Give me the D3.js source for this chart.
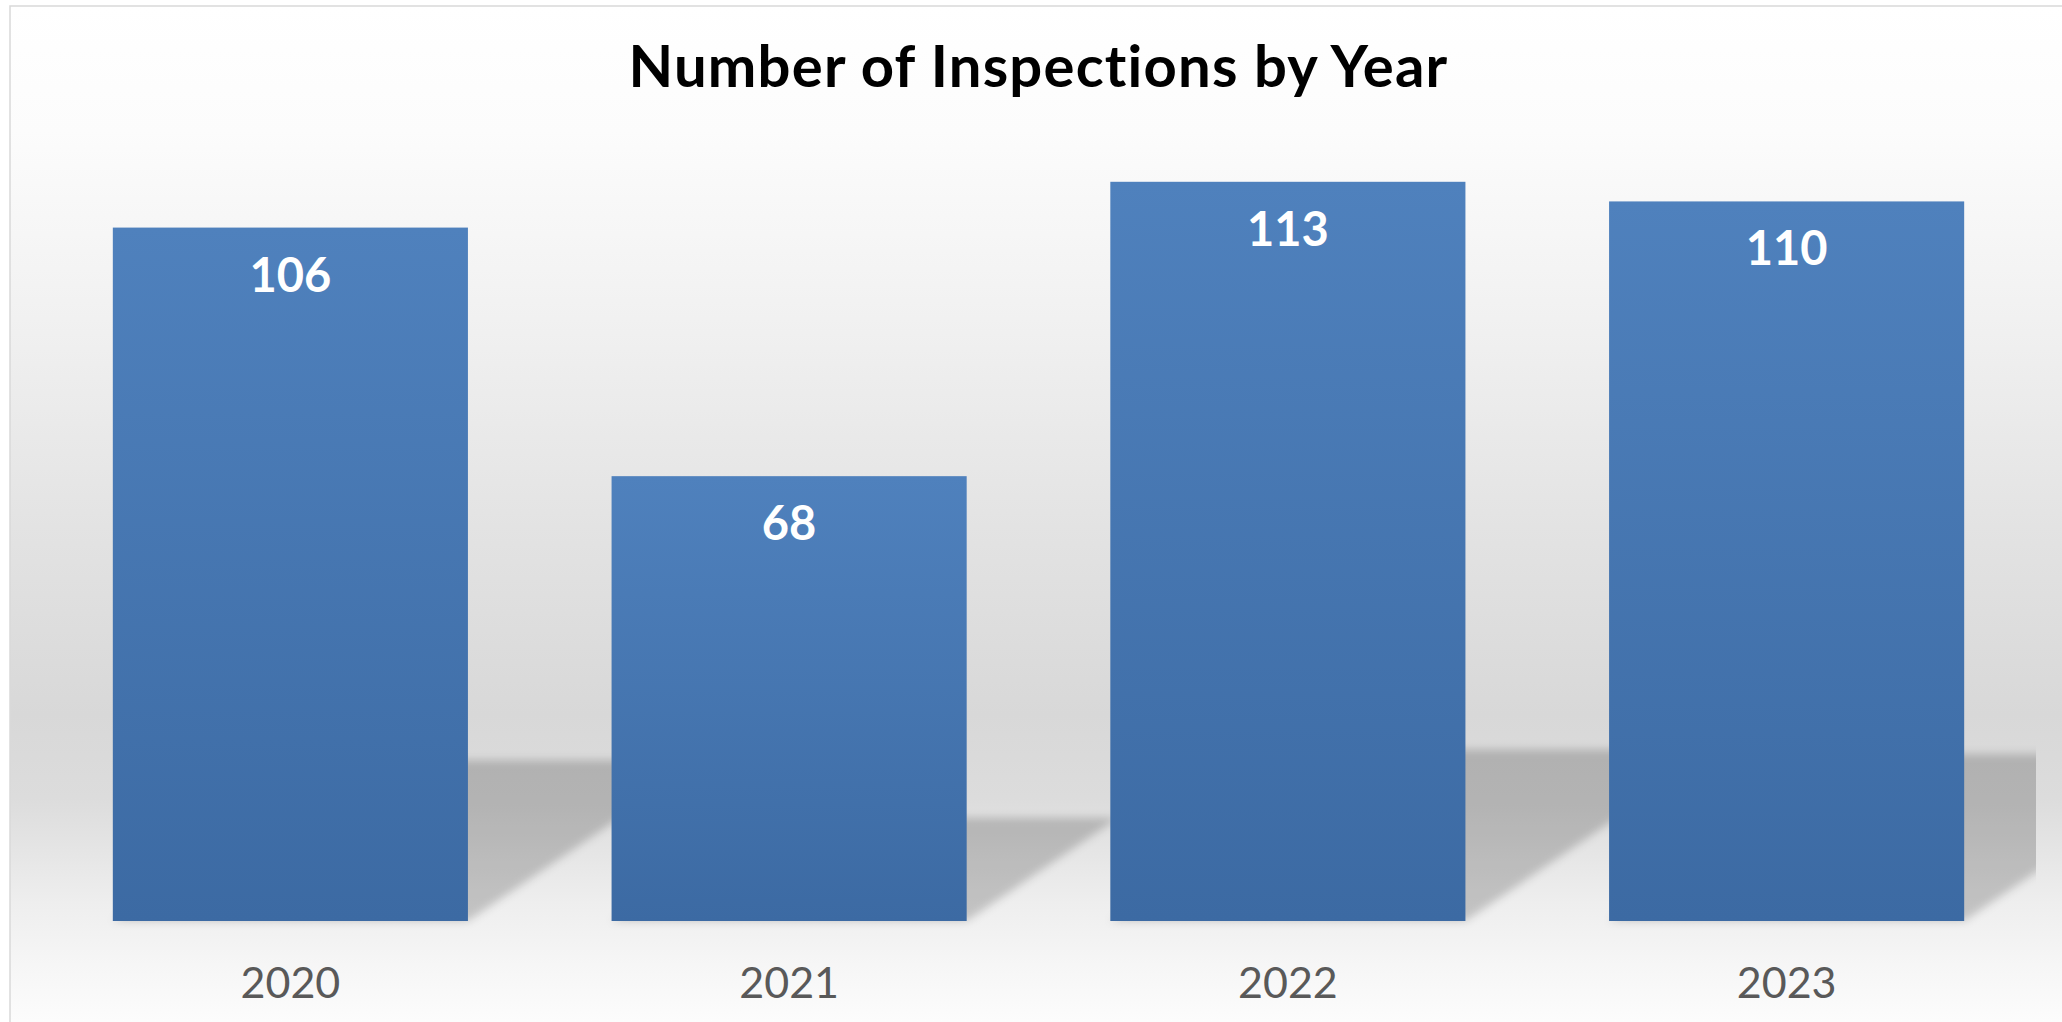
<!DOCTYPE html>
<html>
<head>
<meta charset="utf-8">
<script src="https://cdn.jsdelivr.net/npm/d3@7"></script>
<style>
  body { margin: 0; background: #fff; }
  svg { display: block; }
</style>
</head>
<body>
<svg id="mychart"></svg>
<script>
const width = 2062
const height = 1022

const years = ["2020", "2021", "2022", "2023"]
const inspections = [106, 68, 113, 110]
const title = "Number of Inspections by Year"

const data = years.map((d, i) => ({name: d, value: inspections[i]}))

const x = d3.scaleBand()
    .domain(years)
    .range([41, 2036])
    .paddingInner(0.288)
    .paddingOuter(0.144)

const y = d3.scaleLinear()
    .domain([0, 120])
    .range([921, 136])

function chart() {
    const svg = d3.select('#mychart')
        .attr('width', width)
        .attr('height', height)
        .attr('viewBox', [0, 0, width, height])

    const defs = svg.append("defs")

    // chart area background: white -> grey -> white
    const bg = defs.append("linearGradient")
        .attr("id", "bg").attr("x1", 0).attr("y1", 0).attr("x2", 0).attr("y2", 1)
    ;[[0, "#ffffff"], [0.12, "#fcfcfc"], [0.3, "#f1f1f1"], [0.5, "#e3e3e3"],
      [0.68, "#d8d8d8"], [0.76, "#dcdcdc"], [0.86, "#eeeeee"], [0.92, "#f6f6f6"], [1, "#ffffff"]]
        .forEach(s => bg.append("stop").attr("offset", s[0]).attr("stop-color", s[1]))

    const barGrad = defs.append("linearGradient")
        .attr("id", "bar").attr("x1", 0).attr("y1", 0).attr("x2", 0).attr("y2", 1)
    barGrad.append("stop").attr("offset", 0).attr("stop-color", "#4f81bd")
    barGrad.append("stop").attr("offset", 1).attr("stop-color", "#3c6aa3")

    defs.append("filter").attr("id", "blur")
        .attr("x", -0.1).attr("y", -0.1).attr("width", 1.2).attr("height", 1.2)
        .append("feGaussianBlur").attr("stdDeviation", 4)

    defs.append("clipPath").attr("id", "plot")
        .append("rect")
        .attr("x", x.range()[0]).attr("y", 0)
        .attr("width", x.range()[1] - x.range()[0]).attr("height", height)

    svg.append("rect")
        .attr("x", 10).attr("y", 6)
        .attr("width", width).attr("height", height + 20)
        .attr("fill", "url(#bg)")
        .attr("stroke", "#d9d9d9")
        .attr("stroke-width", 1.5)

    // perspective shadows behind the bars
    svg.append("g")
        .attr("clip-path", "url(#plot)")
        .append("g")
        .attr("filter", "url(#blur)")
        .selectAll("path")
        .data(data)
        .join("path")
        .attr("fill", "#000")
        .attr("fill-opacity", 0.19)
        .attr("d", d => {
            const x0 = x(d.name), x1 = x0 + x.bandwidth()
            const b = y(0)
            const h = (y(0) - y(d.value)) * 0.232
            const dx = h / 0.68
            return `M${x0},${b}L${x1},${b}L${x1 + dx},${b - h}L${x0 + dx},${b - h}Z`
        })

    svg.append("g")
        .selectAll("rect")
        .data(data)
        .join("rect")
        .attr("x", d => x(d.name))
        .attr("y", d => y(d.value))
        .attr("width", x.bandwidth())
        .attr("height", d => y(0) - y(d.value))
        .attr("fill", "url(#bar)")

    svg.append("g")
        .selectAll("text")
        .data(data)
        .join("text")
        .attr("x", d => x(d.name) + x.bandwidth() / 2)
        .attr("y", d => y(d.value) + 64)
        .attr("text-anchor", "middle")
        .attr("font-family", "Lato, 'Open Sans', sans-serif")
        .attr("font-weight", "bold")
        .attr("font-size", 47)
        .attr("fill", "#fff")
        .text(d => d.value)

    const xAxis = g => g
        .attr("transform", `translate(0,${y(0)})`)
        .call(d3.axisBottom(x).tickSize(0).tickPadding(0))
        .call(g => g.select(".domain").remove())
        .call(g => g.selectAll("text")
            .attr("dy", null)
            .attr("y", 77)
            .attr("font-family", "Lato, 'Open Sans', sans-serif")
            .attr("font-size", 43)
            .attr("fill", "#595959"))

    svg.append("g").call(xAxis)

    svg.append("text")
        .attr("x", (x.range()[0] + x.range()[1]) / 2)
        .attr("y", 87)
        .attr("text-anchor", "middle")
        .attr("font-family", "Lato, 'Open Sans', sans-serif")
        .attr("font-weight", "bold")
        .attr("font-size", 58)
        .attr("letter-spacing", 1.2)
        .attr("fill", "#000")
        .text(title)

    return svg.node()
}

chart()
</script>
</body>
</html>
